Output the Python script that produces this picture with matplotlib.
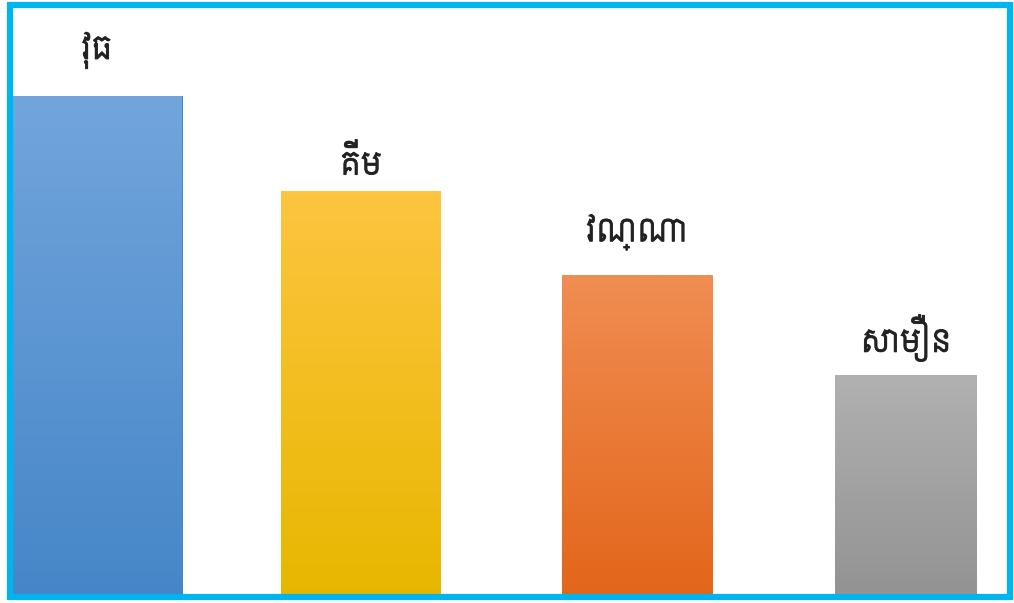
import matplotlib
matplotlib.use("Agg")
import matplotlib.pyplot as plt
import matplotlib.patheffects as pe
import numpy as np
from matplotlib.colors import LinearSegmentedColormap

# names and their scores
names = ["វុធ", "គីម", "វណ្ណា", "សាមឿន"]
scores = [100, 81, 64, 44]

# bar layout (x centre, width) and gradient colours top -> bottom
centres = [97, 361, 637, 906]
widths = [171, 160, 151, 142]
tops = ["#72a5dc", "#fdc540", "#f08d52", "#b1b1b1"]
bottoms = ["#4686c8", "#e7b700", "#e3661b", "#939393"]
label_gap_px = [37, 16, 34, 23]

W, H = 1014, 603
fig = plt.figure(figsize=(W / 100, H / 100), dpi=100)
fig.patch.set_facecolor("white")

# cyan frame round the picture
frame = plt.Rectangle((9.5 / W, 6 / H), 1000 / W, 592 / H, transform=fig.transFigure,
                      fill=False, edgecolor="#00b4ef", linewidth=4.5)
fig.patches.append(frame)

ax = fig.add_axes([12 / W, 9 / H, 995 / W, 585 / H])
ymax = 585 * 100 / 498
px = ymax / 585  # data units per pixel
ax.set_xlim(12, 1007)
ax.set_ylim(0, ymax)
ax.axis("off")

grad = np.linspace(0, 1, 256).reshape(-1, 1)
for i in range(len(names)):
    x0 = centres[i] - widths[i] / 2
    bar = ax.bar(centres[i], scores[i], width=widths[i], color=bottoms[i], linewidth=0)[0]
    cmap = LinearSegmentedColormap.from_list("g%d" % i, [bottoms[i], tops[i]])
    im = ax.imshow(grad, cmap=cmap, aspect="auto", origin="lower",
                   extent=[x0, x0 + widths[i], 0, scores[i]], zorder=2)
    im.set_clip_path(bar)
    t = ax.text(centres[i], scores[i] + label_gap_px[i] * px, names[i], ha="center",
                va="baseline", fontsize=22, family=["Siemreap", "DejaVu Sans"], color="#222222")
    t.set_path_effects([pe.withStroke(linewidth=0.6, foreground="#222222")])

ax.set_xlim(12, 1007)
ax.set_ylim(0, ymax)

fig.savefig("out.png", dpi=100)
